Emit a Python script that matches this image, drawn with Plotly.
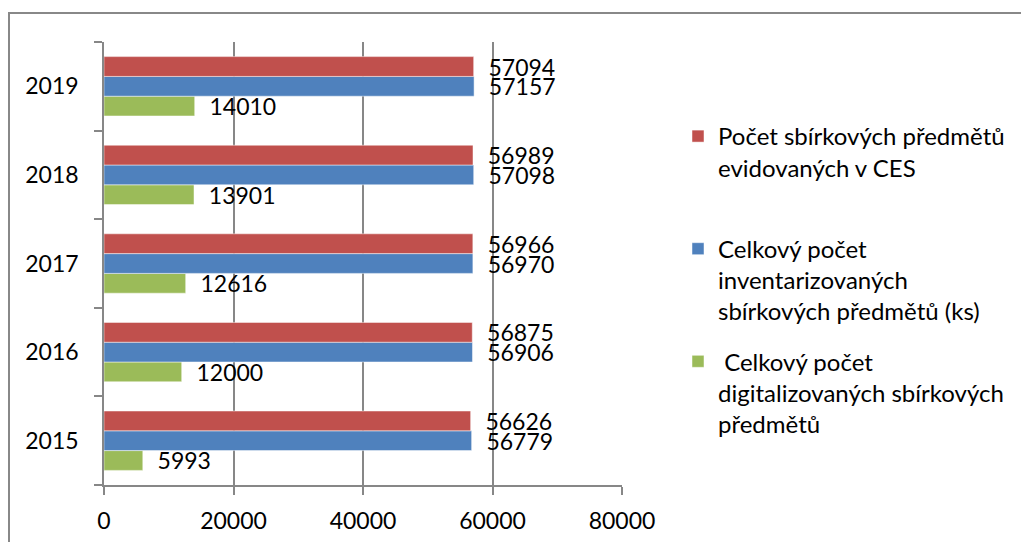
import plotly.graph_objects as go

years = ["2015", "2016", "2017", "2018", "2019"]
ces = [56626, 56875, 56966, 56989, 57094]
inventarizovane = [56779, 56906, 56970, 57098, 57157]
digitalizovane = [5993, 12000, 12616, 13901, 14010]
x_ticks = [0, 20000, 40000, 60000, 80000]

names = [
    "Počet sbírkových předmětů<br>evidovaných v CES<br> ",
    "Celkový počet<br>inventarizovaných<br>sbírkových předmětů (ks)",
    "\u00a0Celkový počet<br>digitalizovaných sbírkových<br>předmětů",
]
colors = ["#C0504D", "#4F81BD", "#9BBB59"]

FONT = "Lato, Carlito, Calibri, sans-serif"
FS = 23
GRID = "#878787"

# page body has a default 8px margin; layout numbers below are in figure pixels
OFF = 8
PL, PR, PT, PB = 104 - OFF, 622 - OFF, 42 - OFF, 485 - OFF
W, H = 1029 - OFF, 542 - OFF
PW, PH = PR - PL, PB - PT

fig = go.Figure()
series = [(digitalizovane, names[2], colors[2], "g3", 3),
          (inventarizovane, names[1], colors[1], "g2", 2),
          (ces, names[0], colors[0], "g1", 1)]
for vals, nm, col, grp, rank in series:
    fig.add_trace(go.Bar(
        y=years, x=vals, orientation="h", name=nm,
        marker=dict(color=col, line=dict(color="rgba(255,255,255,0.6)", width=0.8)),
        text=[str(v) for v in vals], texttemplate="\u00a0\u00a0%{text}", textposition="outside",
        constraintext="none", cliponaxis=False,
        textfont=dict(family=FONT, size=FS, color="black"),
        legendgroup=grp, legendrank=rank,
    ))

fig.update_layout(
    width=W, height=H,
    margin=dict(l=PL, r=W - PR, t=PT, b=H - PB),
    paper_bgcolor="white", plot_bgcolor="white",
    barmode="group", bargap=0.33, bargroupgap=0,
    font=dict(family=FONT, size=FS, color="black"),
    showlegend=True,
    legend=dict(
        x=(678 - 104) / 518, y=(485 - 114) / 443, xanchor="left", yanchor="top",
        traceorder="grouped", tracegroupgap=16,
        valign="top", font=dict(family=FONT, size=24, color="black"),
        bgcolor="rgba(0,0,0,0)",
    ),
    xaxis=dict(
        range=[0, 80000], tickvals=x_ticks, ticktext=[str(v) for v in x_ticks],
        showgrid=True, gridcolor=GRID, gridwidth=1.6,
        zeroline=False, showline=True, linecolor=GRID, linewidth=1.6,
        ticks="outside", ticklen=8, tickcolor=GRID, tickwidth=1.6,
        ticklabelstandoff=7, fixedrange=True, automargin=False,
    ),
    yaxis=dict(
        type="category", categoryorder="array", categoryarray=years,
        showline=True, linecolor=GRID, linewidth=1.6,
        ticks="outside", tickson="boundaries", ticklen=8, tickcolor=GRID, tickwidth=1.6,
        showgrid=False, ticklabelstandoff=19, fixedrange=True, automargin=False,
    ),
    shapes=[dict(type="rect", xref="paper", yref="paper",
                 x0=(9 - 104) / 518, x1=(1040 - 104) / 518,
                 y0=(485 - 560) / 443, y1=(485 - 13) / 443,
                 line=dict(color="#888888", width=2), fillcolor="rgba(0,0,0,0)",
                 layer="below")],
)

fig.write_html("out.html")
